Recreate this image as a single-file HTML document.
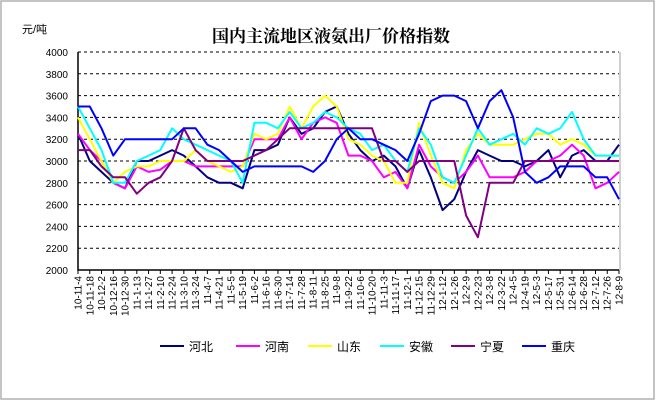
<!DOCTYPE html>
<html><head><meta charset="utf-8"><style>
body{margin:0;background:#fff;}
svg{display:block;font-family:"Liberation Sans","Noto Sans CJK SC",sans-serif;}
</style></head><body>
<svg width="658" height="403" id="chart">
<rect x="1" y="1" width="653" height="398" fill="#fff" stroke="#b0b0b0" stroke-width="1.5"/>
<text x="331" y="42" text-anchor="middle" font-size="17" font-weight="bold" font-family="'Noto Serif CJK SC','Noto Sans CJK SC',serif">国内主流地区液氨出厂价格指数</text>
<text x="22" y="33" font-size="11">元/吨</text>
<g id="grid"></g><g id="axes"></g><g id="series"></g><g id="legend"></g>
</svg>
<script>
const categories=["10-11-4","10-11-18","10-12-2","10-12-16","10-12-30","11-1-13","11-1-27","11-2-10","11-2-24","11-3-10","11-3-24","11-4-7","11-4-21","11-5-5","11-5-19","11-6-2","11-6-16","11-6-30","11-7-14","11-7-28","11-8-11","11-8-25","11-9-8","11-9-22","11-10-6","11-10-20","11-11-3","11-11-17","11-12-1","11-12-15","11-12-29","12-1-12","12-1-26","12-2-9","12-2-23","12-3-8","12-3-22","12-4-5","12-4-19","12-5-3","12-5-17","12-5-31","12-6-14","12-6-28","12-7-12","12-7-26","12-8-9"];
const yTicks=[2000,2200,2400,2600,2800,3000,3200,3400,3600,3800,4000];
const seriesNames=["河北","河南","山东","安徽","宁夏","重庆"];
const seriesColors=["#000080","#ff00ff","#ffff00","#00ffff","#800080","#0000ff"];
const hebei=[3250,3000,2900,2800,2750,3000,3000,3050,3100,3050,2950,2850,2800,2800,2750,3100,3100,3150,3400,3250,3300,3450,3500,3250,3100,3000,3050,2950,2750,3100,2850,2550,2650,2900,3100,3050,3000,3000,2950,3000,3100,2850,3050,3100,3000,3000,3150];
const henan=[3250,3100,3000,2800,2750,2950,2900,2920,3000,3000,2950,2950,2950,2950,2950,3200,3200,3200,3400,3200,3350,3400,3350,3050,3050,3000,2850,2900,2750,3150,2950,2850,2800,2900,3050,2850,2850,2850,2900,3000,3000,3050,3150,3050,2750,2800,2900];
const shandong=[3400,3200,3000,2800,2900,2950,2950,3000,3000,3000,3100,3000,2950,2900,2950,3250,3200,3250,3500,3300,3500,3600,3500,3200,3150,3050,3000,2800,2800,3350,3050,2800,2750,3100,3250,3150,3150,3150,3200,3250,3250,3150,3200,3150,3050,3050,3050];
const anhui=[3500,3300,3100,2800,2800,3000,3050,3100,3300,3200,3150,3100,3050,3000,2800,3350,3350,3300,3450,3300,3350,3450,3400,3300,3250,3100,3150,3000,2900,3300,3150,2850,2800,3050,3300,3150,3200,3250,3150,3300,3250,3300,3450,3200,3050,3050,3050];
const ningxia=[3100,3100,2950,2850,2850,2700,2800,2850,3000,3300,3100,3000,3000,3000,3000,3050,3100,3200,3300,3300,3300,3300,3300,3300,3300,3300,3000,3000,2900,3000,3000,3000,3000,2500,2300,2800,2800,2800,3000,3000,3000,3000,3000,3000,3000,3000,3000];
const chongqing=[3500,3500,3300,3050,3200,3200,3200,3200,3200,3300,3300,3150,3100,3000,2900,2950,2950,2950,2950,2950,2900,3000,3200,3300,3200,3200,3150,3100,3000,3250,3550,3600,3600,3550,3300,3550,3650,3400,2900,2800,2850,2950,2950,2950,2850,2850,2650];
const allSeries=[hebei,henan,shandong,anhui,ningxia,chongqing];

const NS="http://www.w3.org/2000/svg";
const X0=78,X1=619,Y0=270,Y1=52,VMIN=2000,VMAX=4000;
function xPos(i){return X0+i*(X1-X0)/(categories.length-1);}
function yPos(v){return Y0-(v-VMIN)*(Y0-Y1)/(VMAX-VMIN);}
function mk(tag,attrs,parent){const e=document.createElementNS(NS,tag);for(const k in attrs)e.setAttribute(k,attrs[k]);parent.appendChild(e);return e;}
const grid=document.getElementById('grid'),axes=document.getElementById('axes'),ser=document.getElementById('series'),leg=document.getElementById('legend');
yTicks.forEach(v=>{
  if(v>VMIN){const g=mk('line',{x1:X0,x2:X1,y1:yPos(v),y2:yPos(v),stroke:'#000','stroke-dasharray':'3,3','stroke-width':1},grid);
  
  }
  const t=mk('text',{x:68,y:yPos(v)+4,'text-anchor':'end','font-size':10},axes);
  t.textContent=v;
  
  
});
const ax=mk('path',{d:`M${X0},${Y1}V${Y0}H${X1}`,fill:'none',stroke:'#000','stroke-width':1.5},axes);


const ra=mk('line',{x1:X1+1,x2:X1+1,y1:Y1,y2:Y0,stroke:'#a0a0a0','stroke-width':1},axes);


categories.forEach((c,i)=>{
  const x=xPos(i);
  const tk=mk('line',{x1:x,x2:x,y1:Y0,y2:Y0+4,stroke:'#000'},axes);
  
  
  const t=mk('text',{x:0,y:0,'text-anchor':'end','font-size':10,transform:`translate(${x+3.5},${Y0+6}) rotate(-90)`},axes);
  t.textContent=c;
  
  
});
allSeries.forEach((s,k)=>{
  const d=s.map((v,i)=>(i?'L':'M')+xPos(i).toFixed(1)+','+yPos(v).toFixed(1)).join('');
  const p=mk('path',{d:d,fill:'none',stroke:seriesColors[k],'stroke-width':2,'stroke-linejoin':'round'},ser);
  
  
});
const legX=[160,236,308,380,451,522];
seriesNames.forEach((n,k)=>{
  const l=mk('line',{x1:legX[k],x2:legX[k]+24,y1:346,y2:346,stroke:seriesColors[k],'stroke-width':2},leg);
  
  
  const t=mk('text',{x:legX[k]+29,y:351,'font-size':12},leg);
  t.textContent=n;
  
  
});
</script>
</body></html>
